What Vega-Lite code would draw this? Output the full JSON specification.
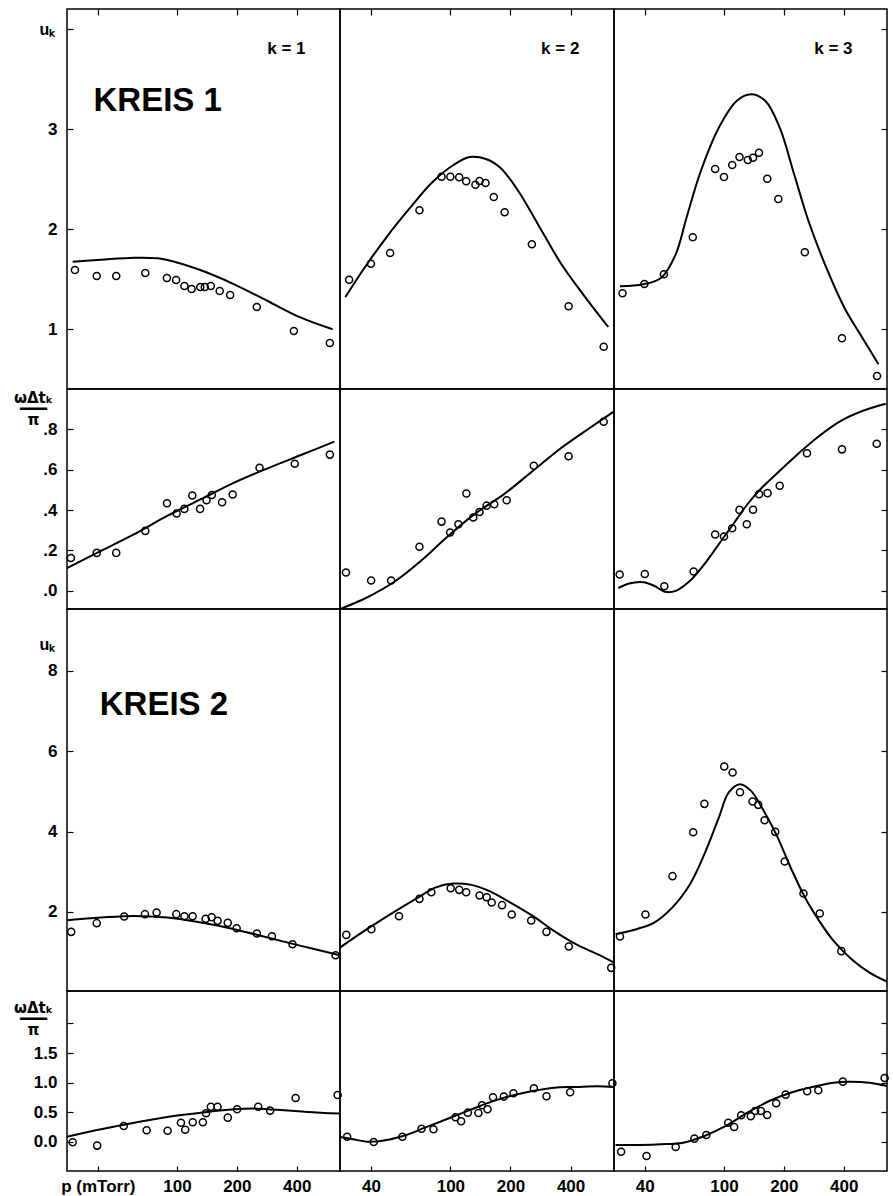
{
 "$schema": "https://vega.github.io/schema/vega-lite/v6.json",
 "background": "white",
 "padding": {"left": 12, "top": 7, "right": 0, "bottom": 0},
 "columns": 3,
 "spacing": 0,
 "bounds": "flush",
 "align": "each",
 "config": {
  "view": {"stroke": "black", "strokeWidth": 1.5},
  "axis": {"domain": false, "grid": false, "tickColor": "black", "tickWidth": 1.2, "labelColor": "black", "labelFont": "Liberation Sans", "labelFontWeight": "bold", "labelFontSize": 17, "titleColor": "black", "titleFont": "Liberation Sans", "titleFontWeight": "bold"},
  "text": {"font": "Liberation Sans", "fontWeight": "bold", "color": "black"}
 },
 "datasets": {
  "a1": [
   {"kind":"m","p":30.7,"v":1.59},{"kind":"m","p":39.5,"v":1.53},{"kind":"m","p":49.5,"v":1.53},{"kind":"m","p":69.3,"v":1.56},{"kind":"m","p":89,"v":1.51},{"kind":"m","p":99,"v":1.49},{"kind":"m","p":109,"v":1.43},{"kind":"m","p":118.5,"v":1.40},{"kind":"m","p":131,"v":1.42},{"kind":"m","p":138,"v":1.42},{"kind":"m","p":148,"v":1.43},{"kind":"m","p":164,"v":1.38},{"kind":"m","p":185,"v":1.34},{"kind":"m","p":252,"v":1.22},{"kind":"m","p":387,"v":0.98},{"kind":"m","p":587,"v":0.86},
   {"kind":"c","p":29.9,"v":1.673},{"kind":"c","p":41.5,"v":1.693},{"kind":"c","p":61,"v":1.713},{"kind":"c","p":80,"v":1.707},{"kind":"c","p":96.9,"v":1.673},{"kind":"c","p":132,"v":1.587},{"kind":"c","p":194,"v":1.447},{"kind":"c","p":285.6,"v":1.28},{"kind":"c","p":420,"v":1.113},{"kind":"c","p":606,"v":0.997},
   {"kind":"t1","p":80,"v":3.28,"label":"KREIS 1"},{"kind":"t2","p":355,"v":3.8,"label":"k = 1"}
  ],
  "a2": [
   {"kind":"m","p":31.1,"v":1.493},{"kind":"m","p":40,"v":1.653},{"kind":"m","p":49.9,"v":1.76},{"kind":"m","p":70,"v":2.187},{"kind":"m","p":90.3,"v":2.523},{"kind":"m","p":100,"v":2.523},{"kind":"m","p":110.7,"v":2.517},{"kind":"m","p":120,"v":2.477},{"kind":"m","p":133.5,"v":2.443},{"kind":"m","p":140,"v":2.48},{"kind":"m","p":150,"v":2.46},{"kind":"m","p":165,"v":2.32},{"kind":"m","p":187,"v":2.167},{"kind":"m","p":256,"v":1.847},{"kind":"m","p":391,"v":1.227},{"kind":"m","p":586,"v":0.823},
   {"kind":"c","p":29.8,"v":1.32},{"kind":"c","p":38.2,"v":1.647},{"kind":"c","p":49.1,"v":1.947},{"kind":"c","p":62.9,"v":2.213},{"kind":"c","p":80.7,"v":2.463},{"kind":"c","p":103.6,"v":2.64},{"kind":"c","p":125,"v":2.72},{"kind":"c","p":150.6,"v":2.70},{"kind":"c","p":177.9,"v":2.613},{"kind":"c","p":218.8,"v":2.38},{"kind":"c","p":281,"v":2.013},{"kind":"c","p":360,"v":1.647},{"kind":"c","p":462,"v":1.347},{"kind":"c","p":618,"v":1.02},
   {"kind":"t2","p":355,"v":3.8,"label":"k = 2"}
  ],
  "a3": [
   {"kind":"m","p":30.9,"v":1.357},{"kind":"m","p":39.8,"v":1.45},{"kind":"m","p":49.9,"v":1.547},{"kind":"m","p":69.7,"v":1.917},{"kind":"m","p":90.3,"v":2.60},{"kind":"m","p":100,"v":2.52},{"kind":"m","p":110,"v":2.64},{"kind":"m","p":119.7,"v":2.72},{"kind":"m","p":131.8,"v":2.69},{"kind":"m","p":140,"v":2.713},{"kind":"m","p":150,"v":2.763},{"kind":"m","p":165,"v":2.503},{"kind":"m","p":187.6,"v":2.30},{"kind":"m","p":255,"v":1.767},{"kind":"m","p":392,"v":0.907},{"kind":"m","p":588,"v":0.53},
   {"kind":"c","p":30,"v":1.427},{"kind":"c","p":39.3,"v":1.447},{"kind":"c","p":48.4,"v":1.513},{"kind":"c","p":57.2,"v":1.747},{"kind":"c","p":64.8,"v":2.113},{"kind":"c","p":76.5,"v":2.58},{"kind":"c","p":94.2,"v":3.013},{"kind":"c","p":115.8,"v":3.28},{"kind":"c","p":136.8,"v":3.347},{"kind":"c","p":161.6,"v":3.28},{"kind":"c","p":190.7,"v":3.013},{"kind":"c","p":225.3,"v":2.547},{"kind":"c","p":266,"v":2.08},{"kind":"c","p":327,"v":1.613},{"kind":"c","p":403,"v":1.213},{"kind":"c","p":496,"v":0.913},{"kind":"c","p":598,"v":0.647},
   {"kind":"t2","p":355,"v":3.8,"label":"k = 3"}
  ],
  "b1": [
   {"kind":"m","p":29.3,"v":0.163},{"kind":"m","p":39.5,"v":0.188},{"kind":"m","p":49.5,"v":0.188},{"kind":"m","p":69.3,"v":0.297},{"kind":"m","p":89.1,"v":0.434},{"kind":"m","p":99.6,"v":0.383},{"kind":"m","p":108.9,"v":0.406},{"kind":"m","p":119.4,"v":0.472},{"kind":"m","p":130.7,"v":0.406},{"kind":"m","p":140.8,"v":0.449},{"kind":"m","p":149.6,"v":0.475},{"kind":"m","p":168.6,"v":0.439},{"kind":"m","p":190.5,"v":0.477},{"kind":"m","p":260,"v":0.61},{"kind":"m","p":391,"v":0.63},{"kind":"m","p":587,"v":0.675},
   {"kind":"c","p":28,"v":0.112},{"kind":"c","p":41.5,"v":0.198},{"kind":"c","p":61,"v":0.281},{"kind":"c","p":89.3,"v":0.371},{"kind":"c","p":132,"v":0.454},{"kind":"c","p":194,"v":0.536},{"kind":"c","p":285.6,"v":0.607},{"kind":"c","p":420,"v":0.673},{"kind":"c","p":618,"v":0.739}
  ],
  "b2": [
   {"kind":"m","p":30,"v":0.091},{"kind":"m","p":40.1,"v":0.051},{"kind":"m","p":50.5,"v":0.051},{"kind":"m","p":70,"v":0.218},{"kind":"m","p":90.3,"v":0.343},{"kind":"m","p":99.7,"v":0.289},{"kind":"m","p":109.7,"v":0.33},{"kind":"m","p":120.3,"v":0.482},{"kind":"m","p":130.2,"v":0.363},{"kind":"m","p":140,"v":0.391},{"kind":"m","p":151.8,"v":0.422},{"kind":"m","p":165.8,"v":0.429},{"kind":"m","p":191.5,"v":0.449},{"kind":"m","p":261.8,"v":0.62},{"kind":"m","p":391,"v":0.667},{"kind":"m","p":586,"v":0.838},
   {"kind":"c","p":28,"v":-0.09},{"kind":"c","p":38.2,"v":-0.033},{"kind":"c","p":53.3,"v":0.05},{"kind":"c","p":71.3,"v":0.149},{"kind":"c","p":95.6,"v":0.264},{"kind":"c","p":132,"v":0.38},{"kind":"c","p":185.7,"v":0.479},{"kind":"c","p":258.5,"v":0.594},{"kind":"c","p":360,"v":0.709},{"kind":"c","p":501,"v":0.808},{"kind":"c","p":658,"v":0.888}
  ],
  "b3": [
   {"kind":"m","p":29.9,"v":0.081},{"kind":"m","p":40,"v":0.083},{"kind":"m","p":50.1,"v":0.023},{"kind":"m","p":70.4,"v":0.096},{"kind":"m","p":90.3,"v":0.279},{"kind":"m","p":100,"v":0.269},{"kind":"m","p":110,"v":0.31},{"kind":"m","p":119.7,"v":0.401},{"kind":"m","p":130.2,"v":0.33},{"kind":"m","p":140,"v":0.402},{"kind":"m","p":150,"v":0.479},{"kind":"m","p":165.6,"v":0.484},{"kind":"m","p":190.6,"v":0.521},{"kind":"m","p":261.4,"v":0.682},{"kind":"m","p":392,"v":0.701},{"kind":"m","p":586,"v":0.729},
   {"kind":"c","p":29.4,"v":0.013},{"kind":"c","p":33.3,"v":0.036},{"kind":"c","p":39.3,"v":0.043},{"kind":"c","p":44.6,"v":0.025},{"kind":"c","p":50.5,"v":-0.005},{"kind":"c","p":57.2,"v":0.0},{"kind":"c","p":67.5,"v":0.05},{"kind":"c","p":79.7,"v":0.132},{"kind":"c","p":94.2,"v":0.231},{"kind":"c","p":111.2,"v":0.33},{"kind":"c","p":131.2,"v":0.429},{"kind":"c","p":155,"v":0.511},{"kind":"c","p":182.9,"v":0.578},{"kind":"c","p":234.8,"v":0.677},{"kind":"c","p":301,"v":0.767},{"kind":"c","p":386.7,"v":0.842},{"kind":"c","p":496,"v":0.891},{"kind":"c","p":650,"v":0.927}
  ],
  "c1": [
   {"kind":"m","p":29.4,"v":1.502},{"kind":"m","p":39.5,"v":1.719},{"kind":"m","p":54.3,"v":1.883},{"kind":"m","p":69,"v":1.943},{"kind":"m","p":79,"v":1.983},{"kind":"m","p":99.2,"v":1.943},{"kind":"m","p":109,"v":1.893},{"kind":"m","p":119.9,"v":1.893},{"kind":"m","p":139.4,"v":1.826},{"kind":"m","p":149.4,"v":1.868},{"kind":"m","p":160,"v":1.776},{"kind":"m","p":180,"v":1.726},{"kind":"m","p":199.5,"v":1.594},{"kind":"m","p":252,"v":1.46},{"kind":"m","p":300,"v":1.395},{"kind":"m","p":381,"v":1.196},{"kind":"m","p":627,"v":0.922},
   {"kind":"c","p":28,"v":1.793},{"kind":"c","p":41.5,"v":1.858},{"kind":"c","p":61,"v":1.9},{"kind":"c","p":89.3,"v":1.858},{"kind":"c","p":132,"v":1.734},{"kind":"c","p":194,"v":1.569},{"kind":"c","p":285.6,"v":1.36},{"kind":"c","p":420,"v":1.154},{"kind":"c","p":660,"v":0.92},
   {"kind":"t1","p":86,"v":7.15,"label":"KREIS 2"}
  ],
  "c2": [
   {"kind":"m","p":30.1,"v":1.427},{"kind":"m","p":40.2,"v":1.569},{"kind":"m","p":55.3,"v":1.893},{"kind":"m","p":70,"v":2.324},{"kind":"m","p":80.3,"v":2.49},{"kind":"m","p":100.4,"v":2.59},{"kind":"m","p":110.7,"v":2.548},{"kind":"m","p":120,"v":2.49},{"kind":"m","p":140,"v":2.406},{"kind":"m","p":152,"v":2.366},{"kind":"m","p":161,"v":2.232},{"kind":"m","p":181.5,"v":2.167},{"kind":"m","p":203,"v":1.933},{"kind":"m","p":254,"v":1.783},{"kind":"m","p":303,"v":1.502},{"kind":"m","p":392,"v":1.136},{"kind":"m","p":639,"v":0.606},
   {"kind":"c","p":28,"v":1.111},{"kind":"c","p":38.2,"v":1.569},{"kind":"c","p":53.3,"v":2.025},{"kind":"c","p":68.8,"v":2.356},{"kind":"c","p":84,"v":2.605},{"kind":"c","p":103.6,"v":2.705},{"kind":"c","p":127.5,"v":2.672},{"kind":"c","p":156,"v":2.523},{"kind":"c","p":200,"v":2.232},{"kind":"c","p":258.5,"v":1.9},{"kind":"c","p":330,"v":1.527},{"kind":"c","p":425,"v":1.196},{"kind":"c","p":545,"v":0.947},{"kind":"c","p":660,"v":0.738}
  ],
  "c3": [
   {"kind":"m","p":30,"v":1.385},{"kind":"m","p":40.3,"v":1.933},{"kind":"m","p":55.1,"v":2.889},{"kind":"m","p":70,"v":3.984},{"kind":"m","p":79.7,"v":4.689},{"kind":"m","p":100.3,"v":5.617},{"kind":"m","p":110.5,"v":5.468},{"kind":"m","p":120.4,"v":4.98},{"kind":"m","p":139.2,"v":4.746},{"kind":"m","p":148.7,"v":4.664},{"kind":"m","p":160,"v":4.283},{"kind":"m","p":181,"v":3.992},{"kind":"m","p":202,"v":3.252},{"kind":"m","p":251,"v":2.456},{"kind":"m","p":303,"v":1.958},{"kind":"m","p":389,"v":1.022},
   {"kind":"c","p":28.5,"v":1.445},{"kind":"c","p":36.3,"v":1.569},{"kind":"c","p":44.6,"v":1.734},{"kind":"c","p":54.9,"v":2.107},{"kind":"c","p":67.5,"v":2.69},{"kind":"c","p":79.7,"v":3.436},{"kind":"c","p":94.2,"v":4.348},{"kind":"c","p":105.5,"v":4.97},{"kind":"c","p":120.4,"v":5.179},{"kind":"c","p":136.8,"v":5.012},{"kind":"c","p":155,"v":4.597},{"kind":"c","p":182.9,"v":3.934},{"kind":"c","p":216.4,"v":3.103},{"kind":"c","p":255.5,"v":2.356},{"kind":"c","p":301,"v":1.776},{"kind":"c","p":355.6,"v":1.278},{"kind":"c","p":438,"v":0.822},{"kind":"c","p":539,"v":0.489},{"kind":"c","p":660,"v":0.265}
  ],
  "d1": [
   {"kind":"m","p":29.9,"v":-0.005},{"kind":"m","p":39.7,"v":-0.062},{"kind":"m","p":54,"v":0.27},{"kind":"m","p":70.4,"v":0.197},{"kind":"m","p":89.7,"v":0.19},{"kind":"m","p":104.7,"v":0.325},{"kind":"m","p":110,"v":0.207},{"kind":"m","p":120,"v":0.332},{"kind":"m","p":135,"v":0.332},{"kind":"m","p":140,"v":0.484},{"kind":"m","p":148,"v":0.595},{"kind":"m","p":160,"v":0.595},{"kind":"m","p":180,"v":0.41},{"kind":"m","p":200.6,"v":0.551},{"kind":"m","p":256,"v":0.595},{"kind":"m","p":294,"v":0.528},{"kind":"m","p":395,"v":0.742},{"kind":"m","p":642,"v":0.793},
   {"kind":"c","p":28,"v":0.089},{"kind":"c","p":41.5,"v":0.214},{"kind":"c","p":61,"v":0.325},{"kind":"c","p":89.3,"v":0.422},{"kind":"c","p":132,"v":0.494},{"kind":"c","p":194,"v":0.551},{"kind":"c","p":253.6,"v":0.562},{"kind":"c","p":345,"v":0.535},{"kind":"c","p":452,"v":0.506},{"kind":"c","p":656,"v":0.478}
  ],
  "d2": [
   {"kind":"m","p":30.4,"v":0.089},{"kind":"m","p":41.3,"v":0.0},{"kind":"m","p":57.5,"v":0.089},{"kind":"m","p":71.7,"v":0.224},{"kind":"m","p":82.3,"v":0.214},{"kind":"m","p":106,"v":0.416},{"kind":"m","p":113.2,"v":0.349},{"kind":"m","p":122.3,"v":0.494},{"kind":"m","p":138.2,"v":0.489},{"kind":"m","p":144,"v":0.619},{"kind":"m","p":153.5,"v":0.551},{"kind":"m","p":163.5,"v":0.754},{"kind":"m","p":185.3,"v":0.765},{"kind":"m","p":207,"v":0.821},{"kind":"m","p":262,"v":0.906},{"kind":"m","p":303,"v":0.771},{"kind":"m","p":398,"v":0.838},{"kind":"m","p":648,"v":0.99},
   {"kind":"c","p":28,"v":0.084},{"kind":"c","p":32.5,"v":0.046},{"kind":"c","p":38.2,"v":0.005},{"kind":"c","p":45,"v":0.017},{"kind":"c","p":58,"v":0.101},{"kind":"c","p":74.6,"v":0.241},{"kind":"c","p":95.6,"v":0.383},{"kind":"c","p":122,"v":0.523},{"kind":"c","p":156,"v":0.663},{"kind":"c","p":200,"v":0.776},{"kind":"c","p":258.5,"v":0.86},{"kind":"c","p":330,"v":0.916},{"kind":"c","p":425,"v":0.927},{"kind":"c","p":545,"v":0.939},{"kind":"c","p":660,"v":0.927}
  ],
  "d3": [
   {"kind":"m","p":30.4,"v":-0.164},{"kind":"m","p":40.8,"v":-0.236},{"kind":"m","p":57.2,"v":-0.084},{"kind":"m","p":71,"v":0.056},{"kind":"m","p":81.5,"v":0.118},{"kind":"m","p":105,"v":0.325},{"kind":"m","p":112.5,"v":0.253},{"kind":"m","p":122,"v":0.45},{"kind":"m","p":136.4,"v":0.433},{"kind":"m","p":143.4,"v":0.523},{"kind":"m","p":153.3,"v":0.523},{"kind":"m","p":164.8,"v":0.455},{"kind":"m","p":183,"v":0.653},{"kind":"m","p":204.3,"v":0.798},{"kind":"m","p":262,"v":0.855},{"kind":"m","p":298,"v":0.872},{"kind":"m","p":396,"v":1.017},{"kind":"m","p":642,"v":1.079},
   {"kind":"c","p":28.5,"v":-0.051},{"kind":"c","p":37.8,"v":-0.051},{"kind":"c","p":48.4,"v":-0.039},{"kind":"c","p":62.3,"v":-0.012},{"kind":"c","p":79.7,"v":0.101},{"kind":"c","p":102.3,"v":0.27},{"kind":"c","p":131.2,"v":0.494},{"kind":"c","p":168.8,"v":0.691},{"kind":"c","p":216.4,"v":0.831},{"kind":"c","p":278,"v":0.927},{"kind":"c","p":355.6,"v":1.0},{"kind":"c","p":420,"v":1.017},{"kind":"c","p":539,"v":1.0},{"kind":"c","p":660,"v":0.944}
  ]
 },
 "concat": [
   {"width": 273, "height": 380, "data": {"name": "a1"},
    "encoding": {
     "x": {"field": "p", "type": "quantitative", "scale": {"type": "log", "domain": [28, 660], "nice": false}, "axis": {"orient": "top", "values": [40, 100, 200, 400], "labels": false, "tickSize": -6, "title": null}},
     "y": {"field": "v", "type": "quantitative", "scale": {"domain": [0.4, 4.2], "nice": false, "zero": false}, "axis": {"orient": "left", "values": [1, 2, 3, 4], "tickSize": -6, "labelPadding": 16, "labelExpr": "datum.value == 4 ? '' : datum.label", "title": "uₖ", "titleAngle": 0, "titleX": -20, "titleY": 20, "titleAlign": "center", "titleBaseline": "middle", "titleFontSize": 16}}
    },
    "layer": [
     {"transform": [{"filter": "datum.kind == 'c'"}], "mark": {"type": "line", "color": "black", "strokeWidth": 2, "interpolate": "catmull-rom", "clip": true}},
     {"transform": [{"filter": "datum.kind == 'm'"}], "mark": {"type": "point", "shape": "circle", "filled": false, "color": "black", "strokeWidth": 1.5, "size": 50, "opacity": 1}},
     {"transform": [{"filter": "datum.kind == 't1'"}], "mark": {"type": "text", "fontSize": 33, "align": "center", "baseline": "middle"}, "encoding": {"text": {"field": "label"}}},
     {"transform": [{"filter": "datum.kind == 't2'"}], "mark": {"type": "text", "fontSize": 17, "align": "center", "baseline": "middle"}, "encoding": {"text": {"field": "label"}}}
    ]
   },
   {"width": 274, "height": 380, "data": {"name": "a2"},
    "encoding": {
     "x": {"field": "p", "type": "quantitative", "scale": {"type": "log", "domain": [28, 660], "nice": false}, "axis": {"orient": "top", "values": [40, 100, 200, 400], "labels": false, "tickSize": -6, "title": null}},
     "y": {"field": "v", "type": "quantitative", "scale": {"domain": [0.4, 4.2], "nice": false, "zero": false}, "axis": null}
    },
    "layer": [
     {"transform": [{"filter": "datum.kind == 'c'"}], "mark": {"type": "line", "color": "black", "strokeWidth": 2, "interpolate": "catmull-rom", "clip": true}},
     {"transform": [{"filter": "datum.kind == 'm'"}], "mark": {"type": "point", "shape": "circle", "filled": false, "color": "black", "strokeWidth": 1.5, "size": 50, "opacity": 1}},
     {"transform": [{"filter": "datum.kind == 't2'"}], "mark": {"type": "text", "fontSize": 17, "align": "center", "baseline": "middle"}, "encoding": {"text": {"field": "label"}}}
    ]
   },
   {"width": 273, "height": 380, "data": {"name": "a3"},
    "encoding": {
     "x": {"field": "p", "type": "quantitative", "scale": {"type": "log", "domain": [28, 660], "nice": false}, "axis": {"orient": "top", "values": [40, 100, 200, 400], "labels": false, "tickSize": -6, "title": null}},
     "y": {"field": "v", "type": "quantitative", "scale": {"domain": [0.4, 4.2], "nice": false, "zero": false}, "axis": {"orient": "right", "values": [1, 2, 3, 4], "labels": false, "tickSize": -6, "title": null}}
    },
    "layer": [
     {"transform": [{"filter": "datum.kind == 'c'"}], "mark": {"type": "line", "color": "black", "strokeWidth": 2, "interpolate": "catmull-rom", "clip": true}},
     {"transform": [{"filter": "datum.kind == 'm'"}], "mark": {"type": "point", "shape": "circle", "filled": false, "color": "black", "strokeWidth": 1.5, "size": 50, "opacity": 1}},
     {"transform": [{"filter": "datum.kind == 't2'"}], "mark": {"type": "text", "fontSize": 17, "align": "center", "baseline": "middle"}, "encoding": {"text": {"field": "label"}}}
    ]
   },
   {"width": 273, "height": 220, "data": {"name": "b1"},
    "encoding": {
     "x": {"field": "p", "type": "quantitative", "scale": {"type": "log", "domain": [28, 660], "nice": false}, "axis": null},
     "y": {"field": "v", "type": "quantitative", "scale": {"domain": [-0.09, 1.0], "nice": false, "zero": false}, "axis": {"orient": "left", "values": [0, 0.2, 0.4, 0.6, 0.8], "tickSize": -6, "labelPadding": 16, "labelExpr": "substring(format(datum.value, '.1f'), 1)", "title": ["ωΔtₖ", "━━━", "π"], "titleAngle": 0, "titleX": -34, "titleY": 1, "titleAlign": "center", "titleBaseline": "top", "titleFont": "DejaVu Sans", "titleFontSize": 15, "titleLineHeight": 11}}
    },
    "layer": [
     {"transform": [{"filter": "datum.kind == 'c'"}], "mark": {"type": "line", "color": "black", "strokeWidth": 2, "interpolate": "catmull-rom", "clip": true}},
     {"transform": [{"filter": "datum.kind == 'm'"}], "mark": {"type": "point", "shape": "circle", "filled": false, "color": "black", "strokeWidth": 1.5, "size": 50, "opacity": 1}}
    ]
   },
   {"width": 274, "height": 220, "data": {"name": "b2"},
    "encoding": {
     "x": {"field": "p", "type": "quantitative", "scale": {"type": "log", "domain": [28, 660], "nice": false}, "axis": null},
     "y": {"field": "v", "type": "quantitative", "scale": {"domain": [-0.09, 1.0], "nice": false, "zero": false}, "axis": null}
    },
    "layer": [
     {"transform": [{"filter": "datum.kind == 'c'"}], "mark": {"type": "line", "color": "black", "strokeWidth": 2, "interpolate": "catmull-rom", "clip": true}},
     {"transform": [{"filter": "datum.kind == 'm'"}], "mark": {"type": "point", "shape": "circle", "filled": false, "color": "black", "strokeWidth": 1.5, "size": 50, "opacity": 1}}
    ]
   },
   {"width": 273, "height": 220, "data": {"name": "b3"},
    "encoding": {
     "x": {"field": "p", "type": "quantitative", "scale": {"type": "log", "domain": [28, 660], "nice": false}, "axis": null},
     "y": {"field": "v", "type": "quantitative", "scale": {"domain": [-0.09, 1.0], "nice": false, "zero": false}, "axis": {"orient": "right", "values": [0, 0.2, 0.4, 0.6, 0.8], "labels": false, "tickSize": -6, "title": null}}
    },
    "layer": [
     {"transform": [{"filter": "datum.kind == 'c'"}], "mark": {"type": "line", "color": "black", "strokeWidth": 2, "interpolate": "catmull-rom", "clip": true}},
     {"transform": [{"filter": "datum.kind == 'm'"}], "mark": {"type": "point", "shape": "circle", "filled": false, "color": "black", "strokeWidth": 1.5, "size": 50, "opacity": 1}}
    ]
   },
   {"width": 273, "height": 382, "data": {"name": "c1"},
    "encoding": {
     "x": {"field": "p", "type": "quantitative", "scale": {"type": "log", "domain": [28, 660], "nice": false}, "axis": null},
     "y": {"field": "v", "type": "quantitative", "scale": {"domain": [0.03, 9.54], "nice": false, "zero": false}, "axis": {"orient": "left", "values": [2, 4, 6, 8], "tickSize": -6, "labelPadding": 16, "title": "uₖ", "titleAngle": 0, "titleX": -20, "titleY": 35, "titleAlign": "center", "titleBaseline": "middle", "titleFontSize": 16}}
    },
    "layer": [
     {"transform": [{"filter": "datum.kind == 'c'"}], "mark": {"type": "line", "color": "black", "strokeWidth": 2, "interpolate": "catmull-rom", "clip": true}},
     {"transform": [{"filter": "datum.kind == 'm'"}], "mark": {"type": "point", "shape": "circle", "filled": false, "color": "black", "strokeWidth": 1.5, "size": 50, "opacity": 1}},
     {"transform": [{"filter": "datum.kind == 't1'"}], "mark": {"type": "text", "fontSize": 33, "align": "center", "baseline": "middle"}, "encoding": {"text": {"field": "label"}}}
    ]
   },
   {"width": 274, "height": 382, "data": {"name": "c2"},
    "encoding": {
     "x": {"field": "p", "type": "quantitative", "scale": {"type": "log", "domain": [28, 660], "nice": false}, "axis": null},
     "y": {"field": "v", "type": "quantitative", "scale": {"domain": [0.03, 9.54], "nice": false, "zero": false}, "axis": null}
    },
    "layer": [
     {"transform": [{"filter": "datum.kind == 'c'"}], "mark": {"type": "line", "color": "black", "strokeWidth": 2, "interpolate": "catmull-rom", "clip": true}},
     {"transform": [{"filter": "datum.kind == 'm'"}], "mark": {"type": "point", "shape": "circle", "filled": false, "color": "black", "strokeWidth": 1.5, "size": 50, "opacity": 1}}
    ]
   },
   {"width": 273, "height": 382, "data": {"name": "c3"},
    "encoding": {
     "x": {"field": "p", "type": "quantitative", "scale": {"type": "log", "domain": [28, 660], "nice": false}, "axis": null},
     "y": {"field": "v", "type": "quantitative", "scale": {"domain": [0.03, 9.54], "nice": false, "zero": false}, "axis": {"orient": "right", "values": [2, 4, 6, 8], "labels": false, "tickSize": -6, "title": null}}
    },
    "layer": [
     {"transform": [{"filter": "datum.kind == 'c'"}], "mark": {"type": "line", "color": "black", "strokeWidth": 2, "interpolate": "catmull-rom", "clip": true}},
     {"transform": [{"filter": "datum.kind == 'm'"}], "mark": {"type": "point", "shape": "circle", "filled": false, "color": "black", "strokeWidth": 1.5, "size": 50, "opacity": 1}}
    ]
   },
   {"width": 273, "height": 180, "data": {"name": "d1"},
    "encoding": {
     "x": {"field": "p", "type": "quantitative", "scale": {"type": "log", "domain": [28, 660], "nice": false}, "axis": {"orient": "bottom", "values": [40, 100, 200, 400], "tickSize": -5, "labelPadding": 12, "title": null, "labelExpr": "datum.value == 40 ? 'p (mTorr)' : datum.label"}},
     "y": {"field": "v", "type": "quantitative", "scale": {"domain": [-0.49, 2.546], "nice": false, "zero": false}, "axis": {"orient": "left", "values": [0, 0.5, 1, 1.5, 2], "tickSize": -6, "labelPadding": 16, "labelExpr": "datum.value == 2 ? '' : format(datum.value, '.1f')", "title": ["ωΔtₖ", "━━━", "π"], "titleAngle": 0, "titleX": -34, "titleY": 9, "titleAlign": "center", "titleBaseline": "top", "titleFont": "DejaVu Sans", "titleFontSize": 15, "titleLineHeight": 11}}
    },
    "layer": [
     {"transform": [{"filter": "datum.kind == 'c'"}], "mark": {"type": "line", "color": "black", "strokeWidth": 2, "interpolate": "catmull-rom", "clip": true}},
     {"transform": [{"filter": "datum.kind == 'm'"}], "mark": {"type": "point", "shape": "circle", "filled": false, "color": "black", "strokeWidth": 1.5, "size": 50, "opacity": 1}}
    ]
   },
   {"width": 274, "height": 180, "data": {"name": "d2"},
    "encoding": {
     "x": {"field": "p", "type": "quantitative", "scale": {"type": "log", "domain": [28, 660], "nice": false}, "axis": {"orient": "bottom", "values": [40, 100, 200, 400], "tickSize": -5, "labelPadding": 12, "title": null}},
     "y": {"field": "v", "type": "quantitative", "scale": {"domain": [-0.49, 2.546], "nice": false, "zero": false}, "axis": null}
    },
    "layer": [
     {"transform": [{"filter": "datum.kind == 'c'"}], "mark": {"type": "line", "color": "black", "strokeWidth": 2, "interpolate": "catmull-rom", "clip": true}},
     {"transform": [{"filter": "datum.kind == 'm'"}], "mark": {"type": "point", "shape": "circle", "filled": false, "color": "black", "strokeWidth": 1.5, "size": 50, "opacity": 1}}
    ]
   },
   {"width": 273, "height": 180, "data": {"name": "d3"},
    "encoding": {
     "x": {"field": "p", "type": "quantitative", "scale": {"type": "log", "domain": [28, 660], "nice": false}, "axis": {"orient": "bottom", "values": [40, 100, 200, 400], "tickSize": -5, "labelPadding": 12, "title": null}},
     "y": {"field": "v", "type": "quantitative", "scale": {"domain": [-0.49, 2.546], "nice": false, "zero": false}, "axis": {"orient": "right", "values": [0, 0.5, 1, 1.5, 2], "labels": false, "tickSize": -6, "title": null}}
    },
    "layer": [
     {"transform": [{"filter": "datum.kind == 'c'"}], "mark": {"type": "line", "color": "black", "strokeWidth": 2, "interpolate": "catmull-rom", "clip": true}},
     {"transform": [{"filter": "datum.kind == 'm'"}], "mark": {"type": "point", "shape": "circle", "filled": false, "color": "black", "strokeWidth": 1.5, "size": 50, "opacity": 1}}
    ]
   }
 ]
}
